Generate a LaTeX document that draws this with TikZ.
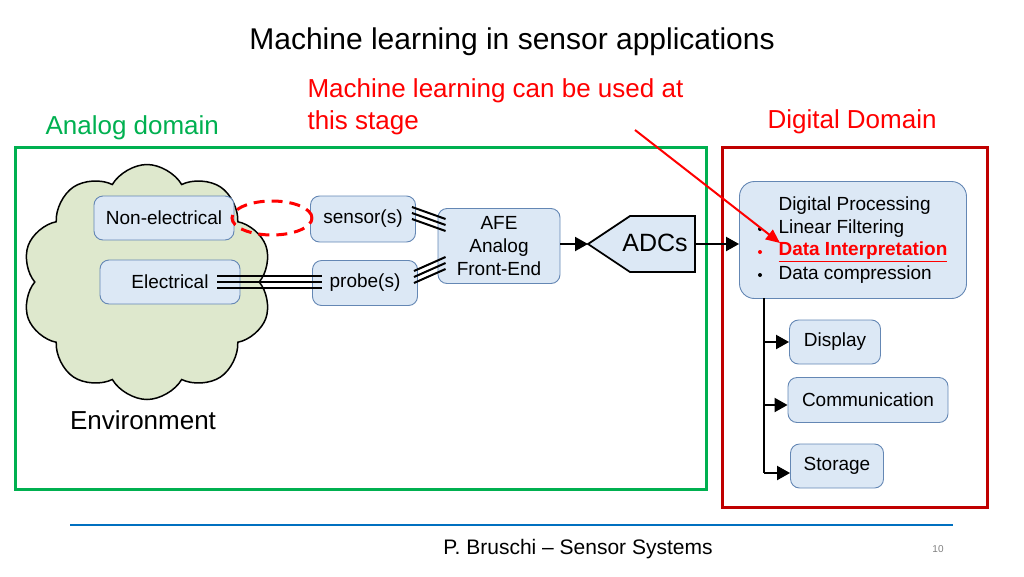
\documentclass[tikz,border=0pt]{standalone}
\usepackage{fontspec}
\setmainfont{Liberation Sans}
\usetikzlibrary{positioning,calc,shapes.symbols,arrows.meta}
\definecolor{boxfill}{RGB}{220,232,245}
\definecolor{boxline}{RGB}{100,135,180}
\definecolor{cloudfill}{RGB}{222,232,205}
\definecolor{anagreen}{RGB}{0,176,80}
\definecolor{digred}{RGB}{192,0,0}
\definecolor{footblue}{RGB}{0,112,192}
\tikzset{
  blk/.style={draw=boxline,fill=boxfill,line width=0.9pt,rounded corners=9pt,inner sep=0pt,font=\fontsize{19}{22}\selectfont},
  big/.style={font=\fontsize{26}{32}\selectfont},
  wire/.style={line width=2pt},
  arr/.style={line width=2pt,-{Triangle[length=13pt,width=14pt]}}
}
\begin{document}
\begin{tikzpicture}[x=1pt,y=-1pt]
  \useasboundingbox (0,0) rectangle (1024,576);

  % Titles
  \node[font=\fontsize{30}{34}\selectfont] (title) at (512,42) {Machine learning in sensor applications};
  \node[big,anchor=west,text=red,align=left] (note) at (304,107) {Machine learning can be used at\\this stage};
  \node[big,anchor=west,text=anagreen] (anatitle) at (42,128) {Analog domain};
  \node[big,anchor=west,text=red] (digtitle) at (764,122) {Digital Domain};

  % Domains
  \draw[anagreen,line width=3pt] (15,147) rectangle (706,489);
  \draw[digred,line width=3pt] (722,147) rectangle (987,507);

  % Environment
  \node[cloud,cloud puffs=10,cloud puff arc=120,aspect=1,draw,fill=cloudfill,line width=1.5pt,
        minimum width=250pt,minimum height=235pt] (env) at (147,282) {};
  \node[big] (envlbl) at (143,420) {Environment};

  % Blocks
  \node[blk,minimum width=140pt,minimum height=44pt] (nonel) at (164,218) {Non-electrical};
  \node[blk,minimum width=140pt,minimum height=44pt] (elec) at (170,282) {Electrical};
  \node[blk,minimum width=105pt,minimum height=46pt] (sens) at (363,219) {sensor(s)};
  \node[blk,minimum width=105pt,minimum height=45pt] (probe) at (365,283) {probe(s)};
  \node[blk,minimum width=122pt,minimum height=75pt,align=center,font=\fontsize{19}{23}\selectfont] (afe) at (499,246) {AFE\\Analog\\Front-End};

  % ADC
  \draw[fill=boxfill,line width=1.8pt] (588,244) -- (630,216) -- (695,216) -- (695,272) -- (630,272) -- cycle;
  \coordinate (adcin) at (588,244);
  \coordinate (adcout) at (695,244);
  \node[font=\fontsize{25}{28}\selectfont] (adc) at (655,243) {ADCs};

  % Digital side
  \node[blk,minimum width=227pt,minimum height=117pt,rounded corners=15pt] (dsp) at (853,240) {};
  \node[anchor=west,font=\fontsize{19}{22}\selectfont] (dp0) at (775,206) {Digital Processing};
  \node[anchor=west,font=\fontsize{19}{22}\selectfont] (dp1) at (775,229) {Linear Filtering};
  \node[anchor=west,text=red,font=\fontsize{19}{22}\selectfont\bfseries] (dp2) at (775,252) {\color{red}\underline{Data Interpretation}};
  \node[anchor=west,font=\fontsize{19}{22}\selectfont] (dp3) at (775,275) {Data compression};
  \foreach \yy/\cc in {229/black,252/red,275/black}
    \fill[\cc] (760,\yy) circle (2pt);
  \node[blk,minimum width=91pt,minimum height=44pt] (disp) at (835,342) {Display};
  \node[blk,minimum width=160pt,minimum height=45pt] (comm) at (868,400) {Communication};
  \node[blk,minimum width=93pt,minimum height=44pt] (stor) at (837,466) {Storage};

  % Connections
  \foreach \dy in {-6,0,6}
    \draw[wire] ($(elec.center)+(47,\dy)$) -- ($(probe.west)+(10,\dy-1)$);
  \foreach \dy in {-6,0,6}
    \draw[wire] ($(sens.east)+(-4,\dy-6)$) -- ($(afe.west)+(8,\dy-21)$);
  \foreach \dy in {-6,0,6}
    \draw[wire] ($(probe.east)+(-4,\dy-6)$) -- ($(afe.west)+(8,\dy+17)$);
  \draw[arr] (afe.east |- adcin) -- (adcin);
  \draw[arr] (adcout) -- (dsp.west |- adcout);
  \coordinate (trunk) at (764,298);
  \draw[line width=2pt] (trunk) -- (764,473);
  \draw[arr] (764,342) -- (disp.west |- 0,342);
  \draw[arr] (764,405) -- (comm.west |- 0,405);
  \draw[arr] (764,473) -- (stor.west |- 0,473);

  % Highlight
  \draw[red,line width=3pt,dash pattern=on 11pt off 7pt] (272,218) ellipse (40pt and 17pt);
  \draw[red,line width=2pt,-{Triangle[length=14pt,width=12pt]}] (635,130) -- (780,243);

  % Footer
  \draw[footblue,line width=2.5pt] (70,525) -- (953,525);
  \node[font=\fontsize{21}{24}\selectfont] (foot) at (578,549) {P. Bruschi -- Sensor Systems};
  \node[text=gray,font=\fontsize{10}{12}\selectfont] (page) at (938,549) {10};
\end{tikzpicture}
\end{document}
